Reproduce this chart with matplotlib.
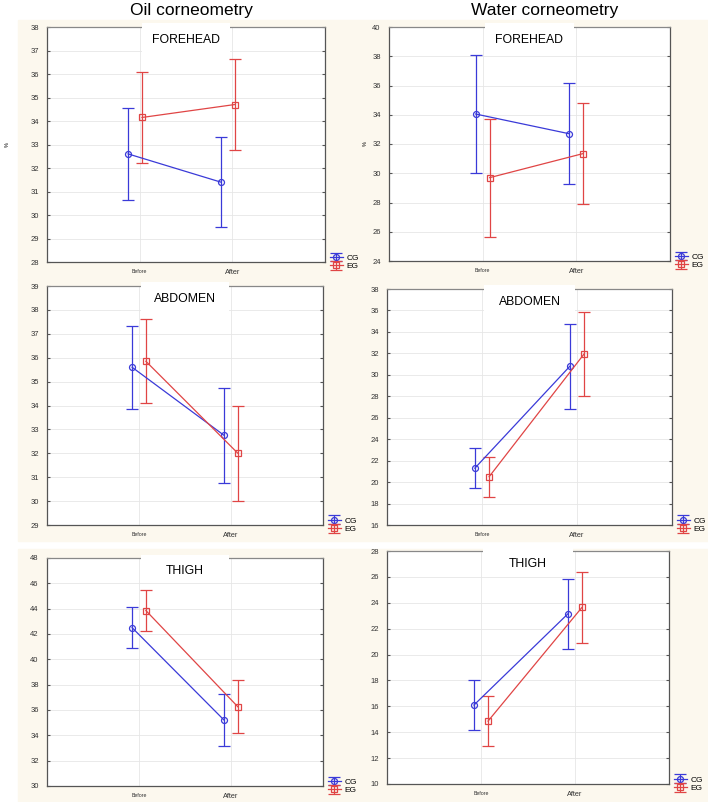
import matplotlib
matplotlib.use("Agg")
import matplotlib.pyplot as plt
from matplotlib.patches import Rectangle

plt.rcParams['font.family'] = ['Liberation Sans', 'DejaVu Sans']

# dados (media e meia largura do IC)
momentos = ["Before", "After"]
grupos = ["CG", "EG"]

oil_forehead_cg = [32.6, 31.4]
oil_forehead_cg_ic = [1.95, 1.9]
oil_forehead_eg = [34.15, 34.7]
oil_forehead_eg_ic = [1.95, 1.93]

oil_abdomen_cg = [35.6, 32.75]
oil_abdomen_cg_ic = [1.73, 1.98]
oil_abdomen_eg = [35.85, 32.0]
oil_abdomen_eg_ic = [1.75, 2.0]

oil_thigh_cg = [42.5, 35.2]
oil_thigh_cg_ic = [1.63, 2.08]
oil_thigh_eg = [43.85, 36.25]
oil_thigh_eg_ic = [1.63, 2.08]

water_forehead_cg = [34.05, 32.7]
water_forehead_cg_ic = [4.05, 3.45]
water_forehead_eg = [29.7, 31.35]
water_forehead_eg_ic = [4.03, 3.45]

water_abdomen_cg = [21.3, 30.8]
water_abdomen_cg_ic = [1.88, 3.98]
water_abdomen_eg = [20.5, 31.95]
water_abdomen_eg_ic = [1.85, 3.95]

water_thigh_cg = [16.1, 23.15]
water_thigh_cg_ic = [1.92, 2.7]
water_thigh_eg = [14.86, 23.65]
water_thigh_eg_ic = [1.95, 2.73]

AZUL = "#3a3ad8"
VERMELHO = "#e04545"
CREME = "#fcf8ee"

fig = plt.figure(figsize=(7.08, 8.02), dpi=100)

# fundo creme de cada linha de graficos
fig.patches.append(Rectangle((18/708, 1-280/802), 690/708, 260/802, transform=fig.transFigure, color=CREME, zorder=-10))
fig.patches.append(Rectangle((18/708, 1-541/802), 690/708, 262/802, transform=fig.transFigure, color=CREME, zorder=-10))
fig.patches.append(Rectangle((18/708, 0), 690/708, 253/802, transform=fig.transFigure, color=CREME, zorder=-10))

fig.text(191/708, 1-11/802, "Oil corneometry", ha="center", va="center", fontsize=12.5)
fig.text(545/708, 1-11/802, "Water corneometry", ha="center", va="center", fontsize=12.5)


def painel(pos, cg, cg_ic, eg, eg_ic, ylim, passo, titulo, ylabel_x=None, desloc=0.0):
    x0, y0, x1, y1 = pos
    ax = fig.add_axes([x0/708, 1-y1/802, (x1-x0)/708, (y1-y0)/802])
    ax.set_facecolor("white")
    xs = [1, 2]
    xcg = [x - 0.075 + desloc for x in xs]
    xeg = [x + 0.075 + desloc for x in xs]
    ax.errorbar(xcg, cg, yerr=cg_ic, color=AZUL, marker="o", ms=4.3, mfc="none", mew=0.9,
                lw=0.9, elinewidth=0.9, capsize=4, capthick=0.9, label=grupos[0], zorder=3)
    ax.errorbar(xeg, eg, yerr=eg_ic, color=VERMELHO, marker="s", ms=4.0, mfc="none", mew=0.9,
                lw=0.9, elinewidth=0.9, capsize=4, capthick=0.9, label=grupos[1], zorder=3)
    ax.set_xlim(0, 3)
    ax.set_ylim(ylim)
    ax.set_yticks(range(ylim[0], ylim[1] + 1, passo))
    ax.set_xticks(xs)
    ax.set_xticklabels(momentos)
    ax.get_xticklabels()[0].set_fontsize(3.8)
    ax.get_xticklabels()[1].set_fontsize(5.3)
    ax.tick_params(axis="y", labelsize=5.5, length=2, direction="in", right=True, color="#555555",
                   labelcolor="#333333", pad=6)
    ax.tick_params(axis="x", length=0, pad=5, labelcolor="#333333")
    ax.grid(True, color="#e6e6e6", lw=0.6)
    ax.set_axisbelow(True)
    for s in ax.spines.values():
        s.set_color("#555555")
        s.set_linewidth(0.9)
    ax.spines["top"].set_color("#888888")
    # caixa branca do titulo por cima do eixo de cima
    ax.add_patch(Rectangle((0.342, 0.895), 0.316, 0.12, transform=ax.transAxes, facecolor="white",
                           edgecolor="none", clip_on=False, zorder=4))
    ax.text(0.5, 0.945, titulo, transform=ax.transAxes, ha="center", va="center", fontsize=8.8, zorder=5)
    if ylabel_x is not None:
        fig.text(ylabel_x/708, 1-(y0+y1)/2/802, "%", rotation=90, ha="center", va="center", fontsize=4)
    ax.legend(loc="center left", bbox_to_anchor=(1.005, 0.0), fontsize=6, frameon=False,
              handlelength=1.6, handletextpad=0.4, labelspacing=0.1, borderaxespad=0)
    return ax


painel((47, 27, 325, 262), oil_forehead_cg, oil_forehead_cg_ic, oil_forehead_eg, oil_forehead_eg_ic,
       (28, 38), 1, "FOREHEAD", ylabel_x=7, desloc=-0.05)
painel((389, 27, 670, 261), water_forehead_cg, water_forehead_cg_ic, water_forehead_eg, water_forehead_eg_ic,
       (24, 40), 2, "FOREHEAD", ylabel_x=365)
painel((47, 286, 323, 525), oil_abdomen_cg, oil_abdomen_cg_ic, oil_abdomen_eg, oil_abdomen_eg_ic,
       (29, 39), 1, "ABDOMEN")
painel((387, 289, 672, 525), water_abdomen_cg, water_abdomen_cg_ic, water_abdomen_eg, water_abdomen_eg_ic,
       (16, 38), 2, "ABDOMEN")
painel((47, 558, 323, 786), oil_thigh_cg, oil_thigh_cg_ic, oil_thigh_eg, oil_thigh_eg_ic,
       (30, 48), 2, "THIGH")
painel((387, 551, 669, 784), water_thigh_cg, water_thigh_cg_ic, water_thigh_eg, water_thigh_eg_ic,
       (10, 28), 2, "THIGH")

fig.savefig("out.png", dpi=100)
